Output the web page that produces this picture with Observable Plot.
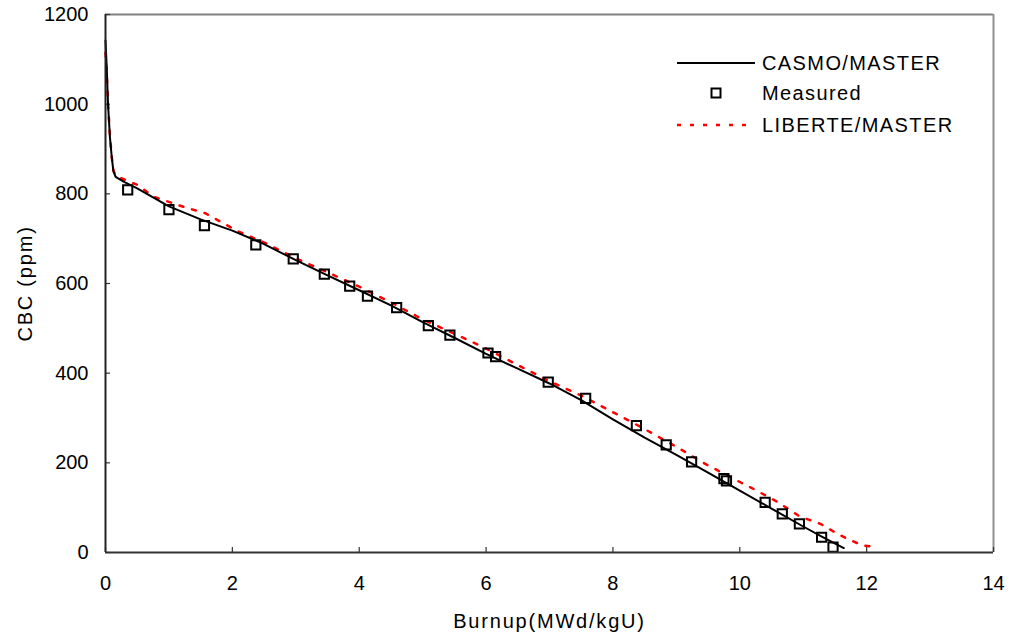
<!DOCTYPE html>
<html>
<head>
<meta charset="utf-8">
<script src="https://cdn.jsdelivr.net/npm/d3@7"></script>
<script src="https://cdn.jsdelivr.net/npm/@observablehq/plot@0.6"></script>
<style>
  body { margin: 0; background: white; }
  #wrap { position: relative; width: 1010px; height: 637px; }
  #legend { position: absolute; left: 0; top: 0; pointer-events: none; }
  text { font-family: "Liberation Sans", Arial, sans-serif; }
</style>
</head>
<body>
<div id="wrap"></div>
<script>
// ---- data ----
const xTicks = [0, 2, 4, 6, 8, 10, 12, 14];
const yTicks = [0, 200, 400, 600, 800, 1000, 1200];

const casmoX = [0, 0.02, 0.04, 0.07, 0.1, 0.125, 0.16, 0.3, 0.5, 1.0, 1.5, 2.0, 2.5, 3.0, 3.5, 4.0, 4.5, 5.0, 5.5, 6.0, 6.5, 7.0, 7.5, 8.0, 8.5, 9.0, 9.5, 10.0, 10.5, 11.0, 11.3, 11.64];
const casmoY = [1142, 1080, 1000, 926, 880, 850, 838, 826, 812, 772, 743, 718, 688, 652, 618, 585, 551, 514, 479, 443, 410, 377, 340, 297, 256, 218, 178, 138, 98, 58, 35, 10];

const libX = [0, 0.02, 0.04, 0.07, 0.1, 0.125, 0.16, 0.5, 0.77, 1.0, 1.25, 1.57, 2.08, 2.54, 3.0, 3.5, 4.0, 4.5, 5.0, 5.5, 6.0, 6.5, 7.0, 7.5, 8.0, 8.4, 9.0, 9.45, 9.95, 10.24, 10.58, 10.95, 11.27, 11.5, 11.69, 11.93, 12.13];
const libY = [1115, 1065, 1000, 930, 880, 852, 840, 820, 793, 782, 770, 757, 717, 689, 656, 625, 593, 558, 520, 488, 455, 418, 382, 350, 313, 283, 236, 198, 161, 140, 114, 80, 64, 45, 31, 16, 12];

const measX = [0.35, 1.0, 1.56, 2.37, 2.96, 3.45, 3.85, 4.13, 4.59, 5.09, 5.43, 6.03, 6.15, 6.98, 7.57, 8.37, 8.84, 9.24, 9.75, 9.79, 10.4, 10.67, 10.94, 11.29, 11.47];
const measY = [809, 765, 729, 686, 655, 621, 594, 572, 546, 506, 485, 445, 437, 380, 344, 283, 240, 202, 165, 160, 112, 86, 64, 34, 12];

const seriesNames = ["CASMO/MASTER", "Measured", "LIBERTE/MASTER"];
const xLabel = "Burnup(MWd/kgU)";
const yLabel = "CBC (ppm)";

const casmo = casmoX.map((x, i) => ({x, y: casmoY[i]}));
const lib = libX.map((x, i) => ({x, y: libY[i]}));
const meas = measX.map((x, i) => ({x, y: measY[i]}));

const FONT = '"Liberation Sans", Arial, sans-serif';

const chart = Plot.plot({
  width: 1010,
  height: 637,
  marginLeft: 105,
  marginRight: 17,
  marginTop: 14,
  marginBottom: 85,
  style: {fontFamily: FONT, fontSize: "20px", color: "black", background: "white"},
  x: {domain: [0, 14]},
  y: {domain: [0, 1200]},
  marks: [
    // frame
    Plot.ruleY([1200], {stroke: "#808080", strokeWidth: 2}),
    Plot.ruleX([14], {stroke: "#909090", strokeWidth: 2}),
    // inward ticks
    Plot.axisX(xTicks, {tickSize: 5, dy: -5, tickFormat: () => "", label: null, stroke: "#333", strokeWidth: 1.2}),
    Plot.axisY(yTicks, {tickSize: 5, dx: 5, tickFormat: () => "", label: null, stroke: "#333", strokeWidth: 1.2}),
    // tick labels
    Plot.axisX(xTicks, {tickSize: 0, tickPadding: 23, label: null, fontSize: 20, tickFormat: d => String(d)}),
    Plot.axisY(yTicks, {tickSize: 0, tickPadding: 17, label: null, fontSize: 20, tickFormat: d => String(d)}),
    // data
    Plot.line(lib, {x: "x", y: "y", stroke: "#ff0000", strokeWidth: 2.5, strokeDasharray: "4,9", curve: "linear"}),
    Plot.line(casmo, {x: "x", y: "y", stroke: "black", strokeWidth: 2, curve: "linear"}),
    Plot.dot(meas, {x: "x", y: "y", symbol: "square", r: 5.2, stroke: "black", strokeWidth: 2, fill: "none"}),
    // axis lines
    Plot.ruleX([0], {stroke: "#222", strokeWidth: 2}),
    Plot.ruleY([0], {stroke: "#333", strokeWidth: 2}),
    // axis titles
    Plot.text([yLabel], {frameAnchor: "left", dx: -80, rotate: -90, textAnchor: "middle", lineAnchor: "middle", fontSize: 20, fill: "black"}),
    Plot.text([xLabel], {frameAnchor: "bottom", dy: 69, textAnchor: "middle", lineAnchor: "middle", fontSize: 20, fill: "black"})
  ]
});

const wrap = document.getElementById("wrap");
wrap.appendChild(chart);

// letter spacing for titles
d3.select(chart).selectAll("text").filter(function() { return this.textContent === xLabel || this.textContent === yLabel; })
  .style("letter-spacing", "1.8px");

// ---- legend ----
const leg = d3.select(wrap).append("svg")
  .attr("id", "legend").attr("width", 1010).attr("height", 637);
const rows = [63, 93, 125];
const lx1 = 677, lx2 = 755, tx = 762;
leg.append("line").attr("x1", lx1).attr("x2", lx2).attr("y1", rows[0]).attr("y2", rows[0])
  .attr("stroke", "black").attr("stroke-width", 2);
leg.append("rect").attr("x", 716 - 4.5).attr("y", rows[1] - 4.5).attr("width", 9).attr("height", 9)
  .attr("fill", "none").attr("stroke", "black").attr("stroke-width", 2);
leg.append("line").attr("x1", lx1).attr("x2", lx2).attr("y1", rows[2]).attr("y2", rows[2])
  .attr("stroke", "#ff0000").attr("stroke-width", 2.5).attr("stroke-dasharray", "4,9");
seriesNames.forEach((n, i) => {
  leg.append("text").attr("x", tx).attr("y", rows[i]).attr("dy", "0.36em")
    .attr("font-size", 20).attr("letter-spacing", "1.4px").attr("fill", "black").text(n);
});
</script>
</body>
</html>
